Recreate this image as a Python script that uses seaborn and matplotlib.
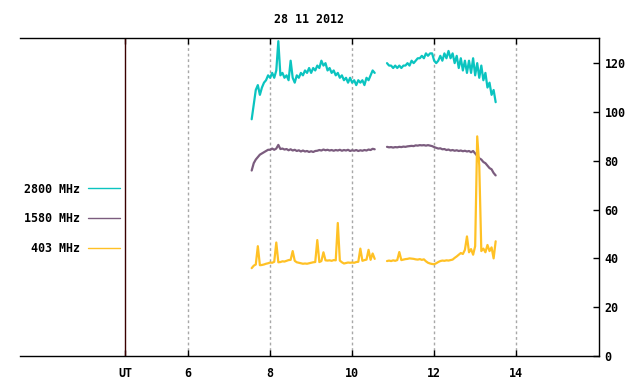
import numpy as np
import pandas as pd
import matplotlib

matplotlib.use("Agg")
import matplotlib.pyplot as plt
import seaborn as sns

# sampling grid (hours UT), two runs with a gap around 10.7 h
t_run1 = np.round(np.arange(7.55, 10.551, 0.05), 2)
t_run2 = np.round(np.arange(10.85, 13.501, 0.05), 2)

bands = ["2800 MHz", "1580 MHz", "403 MHz"]
colors = ["#0bc4c0", "#7b5c7e", "#ffc125"]

f2800_run1 = [97, 103, 109, 111, 107, 110, 112, 113, 115,
              114, 116, 114, 117, 129, 115, 116, 114, 115, 113,
              121, 114, 112, 115, 114, 116, 115, 117, 116, 118,
              116, 118, 117, 119, 118, 121, 119, 120, 117, 118,
              116, 117, 115, 116, 114, 115, 113, 114, 112, 114,
              112, 113, 111, 113, 112, 113, 111, 114, 113, 115,
              117, 116]
f2800_run2 = [120, 119, 119,
              118, 119, 118, 119, 118, 119, 119, 120, 119, 121,
              120, 121, 122, 122, 123, 122, 124, 123, 124, 124,
              121, 120, 121, 123, 121, 124, 122, 125, 122, 124,
              120, 123, 118, 122, 117, 121, 116, 121, 116, 122,
              115, 120, 114, 119, 113, 116, 110, 112, 107, 109, 104]

f1580_run1 = [76, 79, 80.5, 81.5, 82.5, 83, 83.5, 84, 84.5,
              84.5, 85, 84.5, 85, 86.5, 84.8, 85, 84.6, 84.8, 84.3,
              84.7, 84.2, 84.5, 84.0, 84.3, 83.8, 84.2, 83.8, 84.0, 83.6,
              83.9, 83.6, 84.0, 84.1, 84.4, 84.2, 84.6, 84.3, 84.5, 84.2,
              84.4, 84.1, 84.4, 84.2, 84.5, 84.1, 84.4, 84.2, 84.5, 84.0,
              84.3, 84.1, 84.4, 84.0, 84.3, 84.1, 84.4, 84.2, 84.6, 84.4,
              84.9, 84.7]
f1580_run2 = [85.7, 85.5, 85.6,
              85.4, 85.6, 85.5, 85.7, 85.6, 85.8, 85.7, 85.9, 86.0, 86.1,
              86.0, 86.3, 86.2, 86.4, 86.3, 86.4, 86.2, 86.4, 86.2, 86.0,
              85.6, 85.3, 85.0, 85.1, 84.7, 84.8, 84.4, 84.6, 84.2, 84.4,
              84.1, 84.3, 84.0, 84.2, 83.9, 84.1, 83.8, 84.0, 83.5, 84.0,
              83.0, 82.0, 81.0, 80.5, 79.5, 79.0, 78.0, 77.0, 76.5, 75.0, 74.0]

f403_run1 = [36, 37, 37.5, 45, 37.2, 37.3, 37.5, 37.8, 38,
             38.3, 38.2, 38.6, 46.5, 38.4, 38.5, 38.8, 38.7, 39, 39.3,
             39.4, 43, 39, 38.4, 38.2, 38, 37.8, 37.9, 37.8, 38,
             38.2, 38.4, 38.5, 47.5, 38.5, 38.9, 42.5, 39.2, 39.1, 39.2,
             39.0, 39.3, 39.2, 54.5, 39.1, 38.4, 37.9, 38.1, 38.3, 38.2,
             38.3, 38.2, 38.5, 38.6, 44, 39, 39.3, 39.5, 43.5, 39.4,
             42, 39.8]
f403_run2 = [38.9, 39.1, 38.9,
             39.2, 39.0, 39.3, 42.6, 39.3, 39.5, 39.7, 39.8, 40, 39.9,
             39.8, 39.6, 39.5, 39.7, 39.4, 39.6, 38.8, 38.2, 37.9, 37.7,
             37.6, 38.0, 38.5, 38.9, 39.1, 39.0, 39.2, 39.1, 39.3, 39.5,
             40.2, 40.8, 41.5, 42.2, 41.8, 43.5, 49, 42.5, 43.8, 41.5,
             45, 90, 78, 43, 44, 42.5, 45.5, 43, 44.5, 40, 47]

series = {
    "2800 MHz": (f2800_run1, f2800_run2),
    "1580 MHz": (f1580_run1, f1580_run2),
    "403 MHz": (f403_run1, f403_run2),
}

parts = []
for band in bands:
    r1, r2 = series[band]
    parts.append(pd.DataFrame({"time": t_run1, "value": r1, "band": band, "run": 1}))
    parts.append(pd.DataFrame({"time": t_run2, "value": r2, "band": band, "run": 2}))
df = pd.concat(parts, ignore_index=True)

sns.set_theme(style="white")
plt.rcParams["font.family"] = ["DejaVu Sans Mono"]
plt.rcParams["font.weight"] = "bold"
plt.rcParams["text.color"] = "black"
fs = 8.4

fig = plt.figure(figsize=(6.4, 3.84), dpi=100)
ax = fig.add_axes([20 / 640, 28 / 384, 579 / 640, 318 / 384])

for x in [6, 8, 10, 12, 14]:
    ax.axvline(x, color="#a8a8a8", lw=1, ls=(0, (2, 2)), zorder=0)
ax.axvline(4.46, color="#3a0000", lw=1, zorder=1)

sns.lineplot(data=df, x="time", y="value", hue="band", hue_order=bands,
             palette=colors, units="run", estimator=None, linewidth=1.6, ax=ax)

ax.set_xlim(1.9, 16.02)
ax.set_ylim(0, 130.3)
ax.set_xlabel("")
ax.set_ylabel("")

ax.set_xticks([4.46, 6, 8, 10, 12, 14], ["UT", "6", "8", "10", "12", "14"])
ax.yaxis.tick_right()
ax.set_yticks(range(0, 121, 20))
ax.tick_params(axis="x", direction="in", top=True, bottom=True, length=4,
               width=1, pad=8, labelsize=fs, colors="black")
ax.tick_params(axis="y", direction="in", left=False, right=True, length=4,
               width=1, pad=4, labelsize=fs, colors="black")
for lab in ax.get_xticklabels() + ax.get_yticklabels():
    lab.set_fontweight("bold")

ax.spines["left"].set_visible(False)
for s in ["top", "bottom", "right"]:
    ax.spines[s].set_color("black")
    ax.spines[s].set_linewidth(1)

ax.set_title("28 11 2012", fontsize=fs, fontweight="bold", pad=11, color="black")

handles, labels = ax.get_legend_handles_labels()
for h in handles:
    h.set_linewidth(1)
ax.legend(handles, ["2800 MHz", "1580 MHz", " 403 MHz"], loc="center left",
          bbox_to_anchor=(4 / 579, 0.431), frameon=False, markerfirst=False,
          handlelength=2.7, handletextpad=0.7, labelspacing=1.45,
          borderpad=0, borderaxespad=0, labelcolor="black",
          prop={"family": "DejaVu Sans Mono", "weight": "bold", "size": fs})

fig.savefig("out.png", dpi=100)
